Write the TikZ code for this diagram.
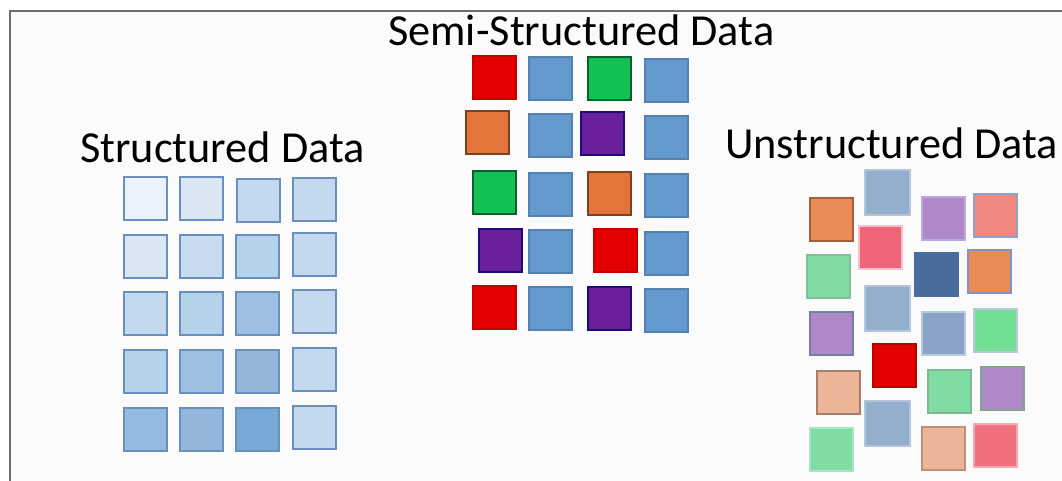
\documentclass[tikz,border=0pt]{standalone}
\usepackage{fontspec}
\setmainfont{Carlito}
\definecolor{bgin}{HTML}{FBFBFB}
\definecolor{framec}{HTML}{6E6E6E}
\definecolor{sA}{HTML}{EAF2FB}
\definecolor{sB}{HTML}{DAE6F3}
\definecolor{sC}{HTML}{C5D9EE}
\definecolor{sD}{HTML}{C9DCEF}
\definecolor{sE}{HTML}{B5D2EB}
\definecolor{sF}{HTML}{9DC0E2}
\definecolor{sG}{HTML}{95B6DB}
\definecolor{sH}{HTML}{93BAE0}
\definecolor{sI}{HTML}{78A8D6}
\definecolor{sborder}{HTML}{6A8EBE}
\definecolor{mred}{HTML}{E50000}
\definecolor{mblue}{HTML}{6399CF}
\definecolor{mgreen}{HTML}{12C153}
\definecolor{morange}{HTML}{E3753A}
\definecolor{mpurple}{HTML}{6A209A}
\definecolor{uorange}{HTML}{E88B55}
\definecolor{ugray}{HTML}{94AECD}
\definecolor{ugray2}{HTML}{8CA3C9}
\definecolor{upurple}{HTML}{B088C8}
\definecolor{usalmon}{HTML}{F08880}
\definecolor{upink}{HTML}{EE6478}
\definecolor{ugreen}{HTML}{80DCA3}
\definecolor{udark}{HTML}{4A6C9D}
\definecolor{upeach}{HTML}{EDB598}
\definecolor{upink2}{HTML}{F07080}
\tikzset{
  sq/.style={draw, line width=1.1pt, inner sep=0pt, outer sep=0pt, anchor=north west, minimum width=43pt, minimum height=43pt},
  ssq/.style={sq, draw=sborder, line width=1.3pt},
  title/.style={anchor=base west, inner sep=0pt, font=\fontsize{44.3}{50}\selectfont, text=black},
}
\begin{document}
\begin{tikzpicture}[x=1pt,y=-1pt]
\useasboundingbox (0,0) rectangle (1062,481);
\fill[white] (0,0) rectangle (1062,481);
\fill[bgin] (10,12) rectangle (1062,481);
\draw[framec, line width=2pt] (10,481) -- (10,11.5) -- (1062,11.5);
% titles
\node[title] (ts) at (80,163) {Structured Data};
\node[title] (tm) at (388,46) {Semi-Structured Data};
\node[title] (tu) at (725,159) {Unstructured Data};
% structured
\node[ssq, fill=sA] (s11) at (124,177) {};
\node[ssq, fill=sB] (s12) at (180,177) {};
\node[ssq, fill=sC] (s13) at (237,179) {};
\node[ssq, fill=sC] (s14) at (293,178) {};
\node[ssq, fill=sB] (s21) at (124,235) {};
\node[ssq, fill=sD] (s22) at (180,235) {};
\node[ssq, fill=sE] (s23) at (236,235) {};
\node[ssq, fill=sC] (s24) at (293,233) {};
\node[ssq, fill=sC] (s31) at (124,292) {};
\node[ssq, fill=sE] (s32) at (180,292) {};
\node[ssq, fill=sF] (s33) at (236,292) {};
\node[ssq, fill=sC] (s34) at (293,290) {};
\node[ssq, fill=sE] (s41) at (124,350) {};
\node[ssq, fill=sF] (s42) at (180,350) {};
\node[ssq, fill=sG] (s43) at (236,350) {};
\node[ssq, fill=sC] (s44) at (293,348) {};
\node[ssq, fill=sH] (s51) at (124,408) {};
\node[ssq, fill=sG] (s52) at (180,408) {};
\node[ssq, fill=sI] (s53) at (236,408) {};
\node[ssq, fill=sC] (s54) at (293,406) {};
% semi-structured
\node[sq, fill=mred, draw=mred!85!black] (m11) at (473,56) {};
\node[sq, fill=mblue, draw=mblue!85!black] (m12) at (529,57) {};
\node[sq, fill=mgreen, draw=mgreen!50!black] (m13) at (588,57) {};
\node[sq, fill=mblue, draw=mblue!85!black] (m14) at (645,59) {};
\node[sq, fill=morange, draw=morange!55!black] (m21) at (466,111) {};
\node[sq, fill=mblue, draw=mblue!85!black] (m22) at (529,114) {};
\node[sq, fill=mpurple, draw=mpurple!50!blue!60!black] (m23) at (581,112) {};
\node[sq, fill=mblue, draw=mblue!85!black] (m24) at (645,116) {};
\node[sq, fill=mgreen, draw=mgreen!50!black] (m31) at (473,171) {};
\node[sq, fill=mblue, draw=mblue!85!black] (m32) at (529,173) {};
\node[sq, fill=morange, draw=morange!55!black] (m33) at (588,172) {};
\node[sq, fill=mblue, draw=mblue!85!black] (m34) at (645,174) {};
\node[sq, fill=mpurple, draw=mpurple!50!blue!60!black] (m41) at (479,229) {};
\node[sq, fill=mblue, draw=mblue!85!black] (m42) at (529,230) {};
\node[sq, fill=mred, draw=mred!85!black] (m43) at (594,229) {};
\node[sq, fill=mblue, draw=mblue!85!black] (m44) at (645,232) {};
\node[sq, fill=mred, draw=mred!85!black] (m51) at (473,286) {};
\node[sq, fill=mblue, draw=mblue!85!black] (m52) at (529,287) {};
\node[sq, fill=mpurple, draw=mpurple!50!blue!60!black] (m53) at (588,287) {};
\node[sq, fill=mblue, draw=mblue!85!black] (m54) at (645,289) {};
% unstructured
\node[sq, fill=uorange, draw=uorange!70!black] (u1) at (810,198) {};
\node[sq, fill=ugray, draw=ugray!70!white, minimum width=45pt, minimum height=45pt] (u2) at (865,170) {};
\node[sq, fill=upurple, draw=upurple!80!blue!60!white] (u3) at (922,197) {};
\node[sq, fill=usalmon, draw=ugray2] (u4) at (974,194) {};
\node[sq, fill=upink, draw=upink!40!white] (u5) at (859,226) {};
\node[sq, fill=ugreen, draw=ugreen!70!gray] (u6) at (807,255) {};
\node[sq, fill=udark, draw=udark] (u7) at (915,253) {};
\node[sq, fill=uorange, draw=ugray2!90!blue] (u8) at (968,250) {};
\node[sq, fill=ugray, draw=ugray!70!white, minimum width=45pt, minimum height=45pt] (u9) at (865,286) {};
\node[sq, fill=upurple, draw=ugray2!80!black] (u10) at (810,312) {};
\node[sq, fill=ugray2, draw=ugray2!60!white] (u11) at (922,312) {};
\node[sq, fill=ugreen!90!green, draw=ugray2!60!white] (u12) at (974,309) {};
\node[sq, fill=mred, draw=mred!80!black] (u13) at (873,344) {};
\node[sq, fill=upeach, draw=upeach!70!black] (u14) at (817,371) {};
\node[sq, fill=ugreen, draw=ugreen!60!gray] (u15) at (928,370) {};
\node[sq, fill=upurple, draw=ugreen!40!gray] (u16) at (981,367) {};
\node[sq, fill=ugray, draw=ugray!70!white, minimum width=45pt, minimum height=45pt] (u17) at (865,401) {};
\node[sq, fill=ugreen, draw=ugreen!70!white] (u18) at (810,428) {};
\node[sq, fill=upeach, draw=upeach!80!black] (u19) at (922,427) {};
\node[sq, fill=upink2, draw=upink2!60!white] (u20) at (974,424) {};
\end{tikzpicture}
\end{document}
